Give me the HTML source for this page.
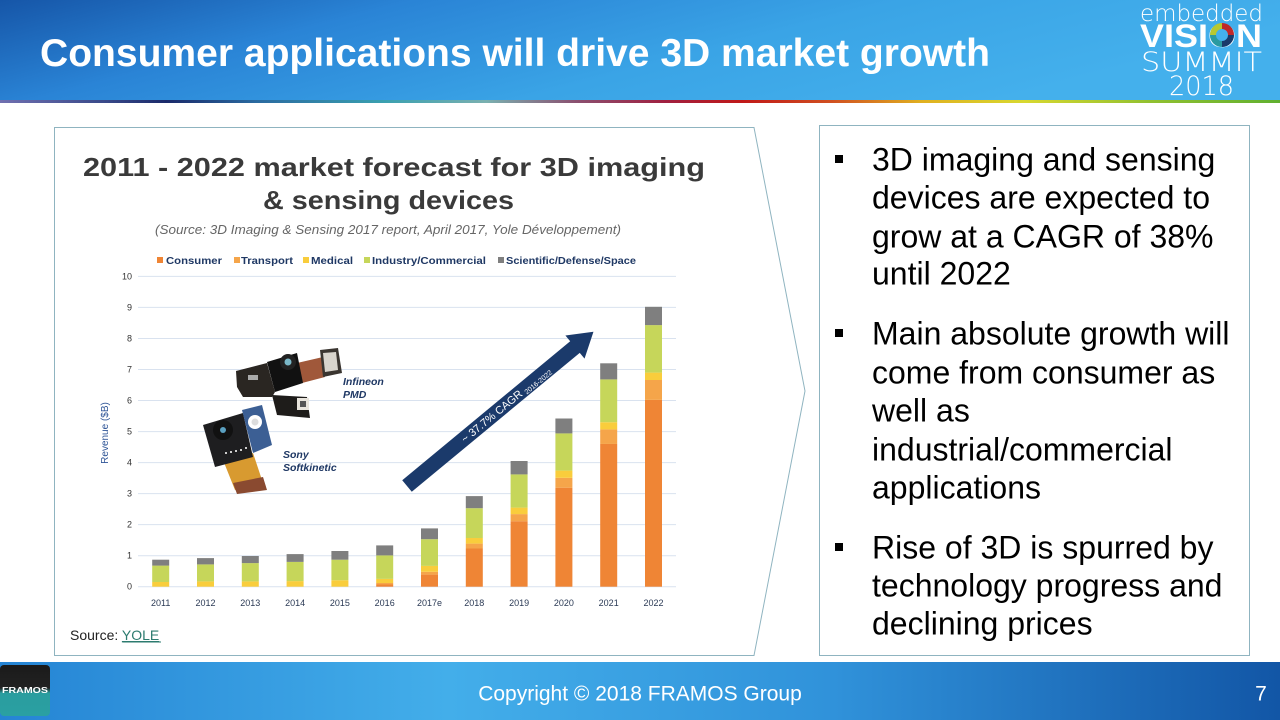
<!DOCTYPE html>
<html><head><meta charset="utf-8">
<style>
html,body{margin:0;padding:0;background:#fff;}
svg{display:block;}
</style></head>
<body>
<svg width="1280" height="720" viewBox="0 0 1280 720" xmlns="http://www.w3.org/2000/svg">
<defs>
<linearGradient id="hdr" x1="0" y1="0" x2="1" y2="0.3">
<stop offset="0" stop-color="#1656a8"/>
<stop offset="0.3" stop-color="#2a84d6"/>
<stop offset="0.65" stop-color="#3aa4e6"/>
<stop offset="1" stop-color="#44b0ec"/>
</linearGradient>
<linearGradient id="ftr" x1="0" y1="0" x2="1" y2="0">
<stop offset="0" stop-color="#2584d4"/>
<stop offset="0.35" stop-color="#43aeea"/>
<stop offset="0.65" stop-color="#3092da"/>
<stop offset="1" stop-color="#1256a6"/>
</linearGradient>
<linearGradient id="rb" x1="0" y1="0" x2="1" y2="0">
<stop offset="0" stop-color="#7070b0"/>
<stop offset="0.08" stop-color="#3a4a8a"/>
<stop offset="0.13" stop-color="#1a2a6a"/>
<stop offset="0.2" stop-color="#2a6aa0"/>
<stop offset="0.3" stop-color="#3aa0b0"/>
<stop offset="0.38" stop-color="#7ab0b0"/>
<stop offset="0.45" stop-color="#8a5070"/>
<stop offset="0.52" stop-color="#a02040"/>
<stop offset="0.58" stop-color="#c01818"/>
<stop offset="0.65" stop-color="#d05020"/>
<stop offset="0.72" stop-color="#e0b020"/>
<stop offset="0.8" stop-color="#d8d830"/>
<stop offset="0.9" stop-color="#90c030"/>
<stop offset="1" stop-color="#60b030"/>
</linearGradient>
<linearGradient id="fr" x1="0" y1="0" x2="0" y2="1">
<stop offset="0" stop-color="#1a1a1a"/>
<stop offset="0.45" stop-color="#222"/>
<stop offset="0.55" stop-color="#2a9d9f"/>
<stop offset="1" stop-color="#2aa0a2"/>
</linearGradient>
</defs>

<!-- header -->
<rect x="0" y="0" width="1280" height="100" fill="url(#hdr)"/>
<rect x="0" y="100" width="1280" height="3" fill="url(#rb)"/>
<text x="40" y="66" font-family="Liberation Sans, Arial, sans-serif" font-weight="bold" font-size="39" fill="#fff" textLength="950" lengthAdjust="spacingAndGlyphs">Consumer applications will drive 3D market growth</text>

<!-- logo -->
<g font-family="DejaVu Sans, Liberation Sans, sans-serif" fill="#fff">
<text x="1140" y="21" font-size="23" font-weight="200" textLength="123" lengthAdjust="spacingAndGlyphs">embedded</text>
<text x="1141" y="71" font-size="27" font-weight="200" textLength="121" lengthAdjust="spacingAndGlyphs">SUMMIT</text>
<text x="1169" y="95" font-size="27" font-weight="200" textLength="65" lengthAdjust="spacingAndGlyphs">2018</text>
</g>
<text x="1140" y="47" font-family="Liberation Sans, Arial, sans-serif" font-size="32" font-weight="bold" fill="#fff" textLength="122" lengthAdjust="spacingAndGlyphs">VISION</text>
<g transform="translate(1222,35)">
<circle r="12" fill="#44b0ec"/>
<path d="M0,-12 A12,12 0 0 1 12,0 L6,0 A6,6 0 0 0 0,-6 Z" fill="#c02828"/>
<path d="M12,0 A12,12 0 0 1 0,12 L0,6 A6,6 0 0 0 6,0 Z" fill="#1a3a6a"/>
<path d="M0,12 A12,12 0 0 1 -12,0 L-6,0 A6,6 0 0 0 0,6 Z" fill="#2a9aa0"/>
<path d="M-12,0 A12,12 0 0 1 0,-12 L0,-6 A6,6 0 0 0 -6,0 Z" fill="#b8c830"/>
</g>

<!-- left box -->
<path d="M54.5,127.5 L754,127.5 L805,391 L754,655.5 L54.5,655.5 Z" fill="#fff" stroke="#8fb4c0" stroke-width="1"/>
<!-- right box -->
<rect x="819.5" y="125.5" width="430" height="530" fill="#fff" stroke="#8fb4c0" stroke-width="1"/>

<!-- chart title -->
<g font-family="Liberation Sans, Arial, sans-serif" fill="#3a3a3a" font-weight="bold">
<text x="83" y="176" font-size="26" textLength="622" lengthAdjust="spacingAndGlyphs">2011 - 2022 market forecast for 3D imaging</text>
<text x="263" y="209" font-size="26" textLength="251" lengthAdjust="spacingAndGlyphs">&amp; sensing devices</text>
</g>
<text x="155" y="234" font-family="Liberation Sans, Arial, sans-serif" font-style="italic" font-size="13" fill="#666" textLength="466" lengthAdjust="spacingAndGlyphs">(Source: 3D Imaging &amp; Sensing 2017 report, April 2017, Yole Développement)</text>

<!-- legend -->
<g font-family="Liberation Sans, Arial, sans-serif" font-weight="bold" font-size="10.5" fill="#1f3864">
<rect x="157" y="257" width="6" height="6" fill="#ef8535"/>
<text x="166" y="264" textLength="56" lengthAdjust="spacingAndGlyphs">Consumer</text>
<rect x="234" y="257" width="6" height="6" fill="#f5a54a"/>
<text x="241" y="264" textLength="52" lengthAdjust="spacingAndGlyphs">Transport</text>
<rect x="303" y="257" width="6" height="6" fill="#f9cd3c"/>
<text x="311" y="264" textLength="42" lengthAdjust="spacingAndGlyphs">Medical</text>
<rect x="364" y="257" width="6" height="6" fill="#c6d65a"/>
<text x="372" y="264" textLength="114" lengthAdjust="spacingAndGlyphs">Industry/Commercial</text>
<rect x="498" y="257" width="6" height="6" fill="#7f7f7f"/>
<text x="506" y="264" textLength="130" lengthAdjust="spacingAndGlyphs">Scientific/Defense/Space</text>
</g>

<!-- gridlines -->
<g stroke="#d9e2ef" stroke-width="1">
<line x1="138" y1="586.7" x2="676" y2="586.7"/>
<line x1="138" y1="555.7" x2="676" y2="555.7"/>
<line x1="138" y1="524.6" x2="676" y2="524.6"/>
<line x1="138" y1="493.6" x2="676" y2="493.6"/>
<line x1="138" y1="462.6" x2="676" y2="462.6"/>
<line x1="138" y1="431.6" x2="676" y2="431.6"/>
<line x1="138" y1="400.5" x2="676" y2="400.5"/>
<line x1="138" y1="369.5" x2="676" y2="369.5"/>
<line x1="138" y1="338.5" x2="676" y2="338.5"/>
<line x1="138" y1="307.4" x2="676" y2="307.4"/>
<line x1="138" y1="276.4" x2="676" y2="276.4"/>
</g>
<g font-family="Liberation Sans, Arial, sans-serif" font-size="9" fill="#333" text-anchor="end">
<text x="132" y="589.7">0</text>
<text x="132" y="558.7">1</text>
<text x="132" y="527.6">2</text>
<text x="132" y="496.6">3</text>
<text x="132" y="465.6">4</text>
<text x="132" y="434.6">5</text>
<text x="132" y="403.5">6</text>
<text x="132" y="372.5">7</text>
<text x="132" y="341.5">8</text>
<text x="132" y="310.4">9</text>
<text x="132" y="279.4">10</text>
</g>
<text transform="translate(108,433) rotate(-90)" text-anchor="middle" font-family="Liberation Sans, Arial, sans-serif" font-size="10" fill="#2f5597">Revenue ($B)</text>

<!-- bars -->
<g>
<rect x="152.2" y="582.0" width="17" height="4.7" fill="#f9cd3c"/>
<rect x="152.2" y="565.6" width="17" height="16.4" fill="#c6d65a"/>
<rect x="152.2" y="559.7" width="17" height="5.9" fill="#7f7f7f"/>
<rect x="197" y="581.4" width="17" height="5.3" fill="#f9cd3c"/>
<rect x="197" y="564.4" width="17" height="17.0" fill="#c6d65a"/>
<rect x="197" y="558.1" width="17" height="6.3" fill="#7f7f7f"/>
<rect x="241.8" y="581.4" width="17" height="5.3" fill="#f9cd3c"/>
<rect x="241.8" y="563.1" width="17" height="18.3" fill="#c6d65a"/>
<rect x="241.8" y="556.0" width="17" height="7.1" fill="#7f7f7f"/>
<rect x="286.6" y="581.1" width="17" height="5.6" fill="#f9cd3c"/>
<rect x="286.6" y="561.9" width="17" height="19.2" fill="#c6d65a"/>
<rect x="286.6" y="554.1" width="17" height="7.8" fill="#7f7f7f"/>
<rect x="331.4" y="580.2" width="17" height="6.5" fill="#f9cd3c"/>
<rect x="331.4" y="559.7" width="17" height="20.5" fill="#c6d65a"/>
<rect x="331.4" y="551.0" width="17" height="8.7" fill="#7f7f7f"/>
<rect x="376.2" y="584.5" width="17" height="2.2" fill="#ef8535"/>
<rect x="376.2" y="583.0" width="17" height="1.5" fill="#f5a54a"/>
<rect x="376.2" y="578.9" width="17" height="4.1" fill="#f9cd3c"/>
<rect x="376.2" y="555.4" width="17" height="23.5" fill="#c6d65a"/>
<rect x="376.2" y="545.4" width="17" height="10.0" fill="#7f7f7f"/>
<rect x="421" y="574.6" width="17" height="12.1" fill="#ef8535"/>
<rect x="421" y="571.8" width="17" height="2.8" fill="#f5a54a"/>
<rect x="421" y="565.9" width="17" height="5.9" fill="#f9cd3c"/>
<rect x="421" y="539.2" width="17" height="26.7" fill="#c6d65a"/>
<rect x="421" y="528.4" width="17" height="10.8" fill="#7f7f7f"/>
<rect x="465.8" y="548.5" width="17" height="38.2" fill="#ef8535"/>
<rect x="465.8" y="543.6" width="17" height="4.9" fill="#f5a54a"/>
<rect x="465.8" y="538.0" width="17" height="5.6" fill="#f9cd3c"/>
<rect x="465.8" y="508.2" width="17" height="29.8" fill="#c6d65a"/>
<rect x="465.8" y="496.1" width="17" height="12.1" fill="#7f7f7f"/>
<rect x="510.6" y="521.2" width="17" height="65.5" fill="#ef8535"/>
<rect x="510.6" y="514.1" width="17" height="7.1" fill="#f5a54a"/>
<rect x="510.6" y="507.6" width="17" height="6.5" fill="#f9cd3c"/>
<rect x="510.6" y="474.4" width="17" height="33.2" fill="#c6d65a"/>
<rect x="510.6" y="461.0" width="17" height="13.4" fill="#7f7f7f"/>
<rect x="555.4" y="487.7" width="17" height="99.0" fill="#ef8535"/>
<rect x="555.4" y="477.8" width="17" height="9.9" fill="#f5a54a"/>
<rect x="555.4" y="470.6" width="17" height="7.2" fill="#f9cd3c"/>
<rect x="555.4" y="433.4" width="17" height="37.2" fill="#c6d65a"/>
<rect x="555.4" y="418.5" width="17" height="14.9" fill="#7f7f7f"/>
<rect x="600.2" y="443.96" width="17" height="142.74" fill="#ef8535"/>
<rect x="600.2" y="429.4" width="17" height="14.56" fill="#f5a54a"/>
<rect x="600.2" y="422.2" width="17" height="7.2" fill="#f9cd3c"/>
<rect x="600.2" y="379.4" width="17" height="42.8" fill="#c6d65a"/>
<rect x="600.2" y="363.3" width="17" height="16.1" fill="#7f7f7f"/>
<rect x="645" y="399.9" width="17" height="186.8" fill="#ef8535"/>
<rect x="645" y="380.0" width="17" height="19.9" fill="#f5a54a"/>
<rect x="645" y="372.6" width="17" height="7.4" fill="#f9cd3c"/>
<rect x="645" y="325.1" width="17" height="47.5" fill="#c6d65a"/>
<rect x="645" y="306.8" width="17" height="18.3" fill="#7f7f7f"/>
</g>

<!-- x labels -->
<g font-family="Liberation Sans, Arial, sans-serif" font-size="9" fill="#2b3a55" text-anchor="middle">
<text x="160.7" y="606">2011</text>
<text x="205.5" y="606">2012</text>
<text x="250.3" y="606">2013</text>
<text x="295.1" y="606">2014</text>
<text x="339.9" y="606">2015</text>
<text x="384.7" y="606">2016</text>
<text x="429.5" y="606">2017e</text>
<text x="474.3" y="606">2018</text>
<text x="519.1" y="606">2019</text>
<text x="563.9" y="606">2020</text>
<text x="608.7" y="606">2021</text>
<text x="653.5" y="606">2022</text>
</g>

<!-- CAGR arrow -->
<g transform="translate(407,486) rotate(-39.6)">
<polygon points="0,-7.5 218,-7.5 218,-15 242,0 218,15 218,7.5 0,7.5" fill="#1b3a6b"/>
<text x="72" y="4" font-family="Liberation Sans, Arial, sans-serif" font-size="11" fill="#fff">~ 37.7% CAGR <tspan font-size="7" dy="2">2016-2022</tspan></text>
</g>

<!-- Infineon PMD module -->
<g>
<polygon points="236,371 267,363 275,392 272,397 243,397 237,387" fill="#2a2622"/>
<polygon points="297,363 323,357 325,377 302,383" fill="#a0583a"/>
<polygon points="320,350 338,348 342,373 323,377" fill="#3a3530"/>
<polygon points="323,353 336,352 338,370 325,372" fill="#d8d4cc"/>
<polygon points="267,362 297,353 303,383 275,392" fill="#111"/>
<circle cx="288" cy="362" r="8" fill="#222"/>
<circle cx="288" cy="362" r="3.5" fill="#7ab8c8"/>
<polygon points="272,395 307,397 310,418 277,415" fill="#1e1c1a"/>
<rect x="297" y="398" width="12" height="12" fill="#e8e4dc"/>
<rect x="300" y="401" width="6" height="6" fill="#555"/>
<rect x="248" y="375" width="10" height="5" fill="#aaa"/>
</g>
<!-- Sony Softkinetic module -->
<g>
<polygon points="223,460 253,453 263,483 235,490" fill="#d89a30"/>
<polygon points="233,483 263,477 267,490 237,494" fill="#8a4a30"/>
<polygon points="203,425 243,413 253,457 215,467" fill="#1e1e20"/>
<polygon points="242,410 262,405 272,445 253,453" fill="#3c5f94"/>
<circle cx="255" cy="422" r="7" fill="#fff"/>
<circle cx="255" cy="422" r="3.5" fill="#ddd"/>
<circle cx="223" cy="430" r="10" fill="#111"/>
<circle cx="223" cy="430" r="3" fill="#5aa0c0"/>
<g fill="#ccc"><rect x="225" y="452" width="2" height="2"/><rect x="230" y="451" width="2" height="2"/><rect x="235" y="450" width="2" height="2"/><rect x="240" y="449" width="2" height="2"/><rect x="245" y="447" width="2" height="2"/></g>
</g>
<g font-family="Liberation Sans, Arial, sans-serif" font-weight="bold" font-style="italic" font-size="10.5" fill="#1f3864">
<text x="343" y="385">Infineon</text>
<text x="343" y="398">PMD</text>
<text x="283" y="458">Sony</text>
<text x="283" y="471">Softkinetic</text>
</g>

<!-- source -->
<text x="70" y="640" font-family="Liberation Sans, Arial, sans-serif" font-size="14" fill="#222">Source: <tspan fill="#2c7b6f" text-decoration="underline">YOLE</tspan></text>
<line x1="123" y1="642" x2="161" y2="642" stroke="#2c7b6f" stroke-width="1"/>

<!-- bullets -->
<g fill="#000">
<rect x="835" y="155" width="8" height="8"/>
<rect x="835" y="329" width="8" height="8"/>
<rect x="835" y="543" width="8" height="8"/>
</g>
<g font-family="Liberation Sans, Arial, sans-serif" font-size="32" fill="#000">
<text x="872" y="170.5">3D imaging and sensing</text>
<text x="872" y="208.5">devices are expected to</text>
<text x="872" y="247.5">grow at a CAGR of 38%</text>
<text x="872" y="284.5">until 2022</text>
<text x="872" y="344.5">Main absolute growth will</text>
<text x="872" y="383.5">come from consumer as</text>
<text x="872" y="421.5">well as</text>
<text x="872" y="460.5">industrial/commercial</text>
<text x="872" y="498.5">applications</text>
<text x="872" y="558.5">Rise of 3D is spurred by</text>
<text x="872" y="596.5">technology progress and</text>
<text x="872" y="634.5">declining prices</text>
</g>

<!-- footer -->
<rect x="0" y="662" width="1280" height="58" fill="url(#ftr)"/>
<rect x="0" y="665" width="50" height="51" rx="4" fill="url(#fr)"/>
<text x="25" y="693" text-anchor="middle" font-family="Liberation Sans, Arial, sans-serif" font-weight="bold" font-size="8" fill="#fff" textLength="46" lengthAdjust="spacingAndGlyphs">FRAMOS</text>
<text x="640" y="700.5" text-anchor="middle" font-family="Liberation Sans, Arial, sans-serif" font-size="21" fill="#fff">Copyright © 2018 FRAMOS Group</text>
<text x="1261" y="700.5" text-anchor="middle" font-family="Liberation Sans, Arial, sans-serif" font-size="21" fill="#fff">7</text>
</svg>
</body></html>
